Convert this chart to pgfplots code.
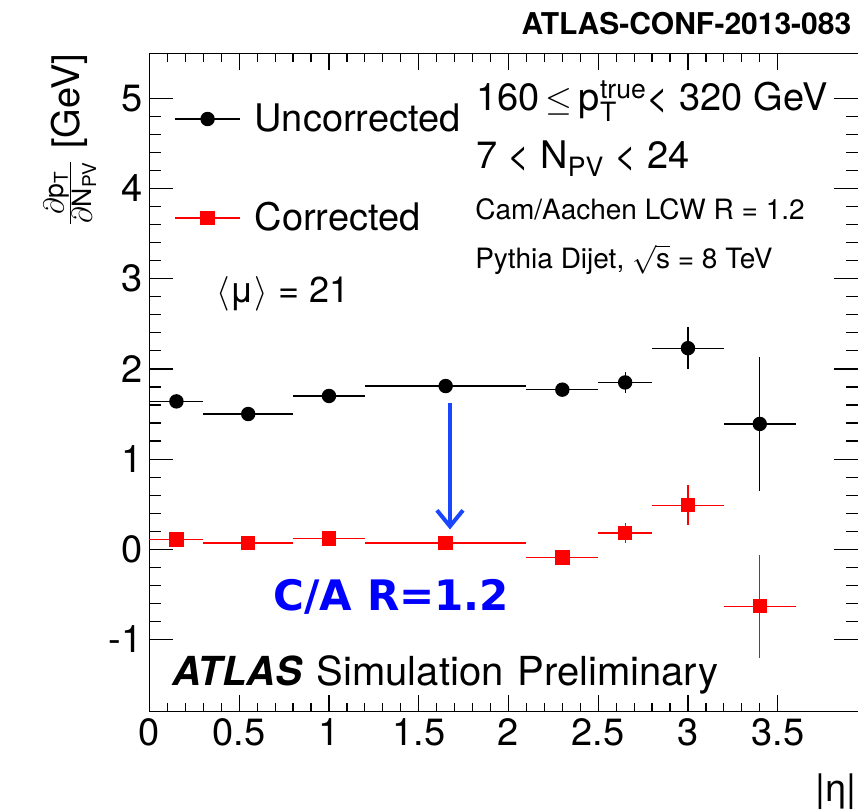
\documentclass[border=0pt]{standalone}
\usepackage{fontspec}
\setmainfont{TeX Gyre Heros}
\newfontfamily\dejavu{DejaVu Sans}
\usepackage{pgfplots}
\pgfplotsset{compat=1.18}
\usetikzlibrary{arrows.meta}
\definecolor{arrowblue}{RGB}{25,70,255}

% eta bins: centre, half width, value, error
\pgfplotstableread{
x    ex    y     ey
0.15 0.15  1.64  0.03
0.55 0.25  1.50  0.03
1.00 0.20  1.70  0.03
1.65 0.45  1.81  0.03
2.30 0.20  1.77  0.03
2.65 0.15  1.85  0.12
3.00 0.20  2.23  0.23
3.40 0.20  1.39  0.74
}\uncorr
\pgfplotstableread{
x    ex    y      ey
0.15 0.15  0.11   0.03
0.55 0.25  0.07   0.03
1.00 0.20  0.12   0.03
1.65 0.45  0.07   0.03
2.30 0.20  -0.09  0.03
2.65 0.15  0.18   0.11
3.00 0.20  0.49   0.22
3.40 0.20  -0.63  0.57
}\corr

\begin{document}
\begin{tikzpicture}
\useasboundingbox (-74.75pt,-50.15pt) rectangle ++(429pt,406pt);
\begin{axis}[
  scale only axis, width=354.5pt, height=329.25pt,
  xmin=0, xmax=3.95, ymin=-1.8, ymax=5.5,
  xtick={0,0.5,...,3.5}, ytick={-1,0,...,5},
  minor x tick num=4, minor y tick num=4,
  tick align=inside,
  major tick length=12pt, minor tick length=6pt,
  xtick style={/pgfplots/major tick length=8.5pt, /pgfplots/minor tick length=4.5pt},
  axis line style={line width=0.6pt},
  every tick/.style={black, line width=0.6pt},
  /pgf/number format/assume math mode=true,
  tick label style={font=\fontsize{19}{22}\selectfont},
  clip=false,
  legend cell align=left,
  legend style={draw=none, fill=none, inner sep=0pt, row sep=34pt,
    nodes={inner sep=0pt}, font=\fontsize{19}{22}\selectfont,
    at={(axis cs:0.137,4.945)}, anchor=north west,
    /tikz/every odd column/.append style={column sep=7pt}},
  legend image code/.code={
    \draw[#1] (0pt,0pt) -- (32.5pt,0pt);
    \draw[#1] plot coordinates {(16.25pt,0pt)};},
]
\addplot[black, line width=0.6pt, only marks, mark=*, mark size=3.3pt,
  error bars/.cd, x dir=both, x explicit, y dir=both, y explicit,
  error mark=none, error bar style={line width=0.6pt, black}]
  table[x=x, y=y, x error=ex, y error=ey] {\uncorr};
\addplot[red, line width=0.6pt, only marks, mark=square*, mark size=3.3pt,
  error bars/.cd, x dir=both, x explicit, y dir=both, y explicit,
  error mark=none, error bar style={line width=0.6pt, red}]
  table[x=x, y=y, x error=ex, y error=ey] {\corr};
\legend{Uncorrected, Corrected}

\draw[arrowblue, line width=2pt, -{Straight Barb[length=8pt,width=13pt]}]
  (axis cs:1.674,1.62) -- (axis cs:1.674,0.22);

\begin{scope}[every node/.style={inner sep=0pt}]
\node[anchor=base west, font=\fontsize{19}{22}\selectfont] at (axis cs:1.817,4.86)
  {160\,$\leq$\,p$_{\mathrm{T}}^{\mathrm{true}}$< 320 GeV};
\node[anchor=base west, font=\fontsize{19}{22}\selectfont] at (axis cs:1.817,4.22)
  {7 < N$_{\mathrm{PV}}$ < 24};
\node[anchor=base west, font=\fontsize{14}{17}\selectfont] at (axis cs:1.813,3.66)
  {Cam/Aachen LCW R = 1.2};
\node[anchor=base west, font=\fontsize{14}{17}\selectfont] at (axis cs:1.813,3.115)
  {Pythia Dijet, $\sqrt{\mathrm{s}}$ = 8 TeV};
\node[anchor=base west, font=\fontsize{18}{22}\selectfont] at (axis cs:0.37,2.74)
  {$\langle$μ$\rangle$ = 21};
\node[anchor=base west, font=\dejavu\bfseries\fontsize{21}{25}\selectfont, text=blue]
  at (axis cs:0.69,-0.673) {C/A R=1.2};
\node[anchor=base west, font=\fontsize{20}{24}\selectfont] at (axis cs:0.125,-1.508)
  {\textbf{\textit{ATLAS}}\hspace{7pt}Simulation\hspace{7pt}Preliminary};
\node[anchor=base east, font=\bfseries\fontsize{15}{18}\selectfont]
  at ([yshift=9.15pt]axis cs:3.912,5.5) {ATLAS-CONF-2013-083};
\node[anchor=north east, font=\fontsize{19}{22}\selectfont]
  at ([yshift=-31pt]axis cs:3.942,-1.8) {|η|};
\node[rotate=90, anchor=south east, font=\fontsize{19}{22}\selectfont]
  at ([xshift=-26.5pt]rel axis cs:0,1)
  {$\frac{\partial\mathrm{p}_{\mathrm{T}}}{\partial\mathrm{N}_{\mathrm{PV}}}$ [GeV]};
\end{scope}
\end{axis}
\end{tikzpicture}
\end{document}
